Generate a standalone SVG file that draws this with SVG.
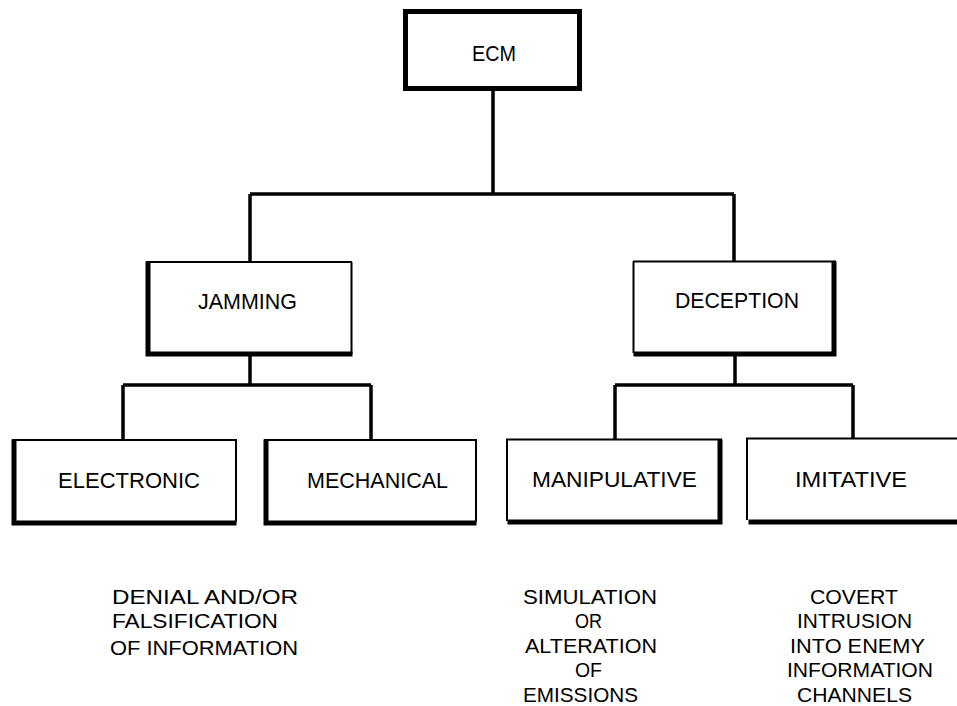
<svg xmlns="http://www.w3.org/2000/svg" width="957" height="706" viewBox="0 0 957 706">
<style>
.thin{stroke:#000;stroke-width:2;fill:none}
.thick{stroke:#000;stroke-width:5;fill:none;stroke-linecap:square}
.con{stroke:#000;stroke-width:3.5;fill:none}
text{font-family:"Liberation Sans",Arial,sans-serif;font-size:21px;fill:#000}
.lbl{font-size:22px}
</style>
<rect width="957" height="706" fill="#fff"/>
<g id="connectors">
<path class="con" d="M493 91V195M250 194H734M250 194V262M734 194V261"/>
<path class="con" d="M250 356V385M123 385H371M123 385V440M371 385V440"/>
<path class="con" d="M735 356V385M615 385H853M615 385V439M853 385V439"/>
</g>
<g id="ecm">
<rect class="thick" x="405.5" y="11.5" width="174" height="77"/>
<text class="lbl" x="472" y="61" textLength="44" lengthAdjust="spacingAndGlyphs">ECM</text>
</g>
<g id="jamming">
<path class="thin" d="M146 262H352M351.5 262V354"/>
<path class="thick" d="M148 264V353M148 354H350"/>
<text class="lbl" x="198" y="309" textLength="99" lengthAdjust="spacingAndGlyphs">JAMMING</text>
</g>
<g id="deception">
<path class="thin" d="M633 261.5H836M633.5 261.5V353"/>
<path class="thick" d="M834 264V353M636 354H834"/>
<text class="lbl" x="675" y="308" textLength="124" lengthAdjust="spacingAndGlyphs">DECEPTION</text>
</g>
<g id="electronic">
<path class="thin" d="M12 440H237M236 440V522"/>
<path class="thick" d="M14 442V523M14 523H234"/>
<text class="lbl" x="58" y="488" textLength="142" lengthAdjust="spacingAndGlyphs">ELECTRONIC</text>
</g>
<g id="mechanical">
<path class="thin" d="M264 440H477M476 440V522"/>
<path class="thick" d="M266 442V523M266 523H474"/>
<text class="lbl" x="307" y="488" textLength="141" lengthAdjust="spacingAndGlyphs">MECHANICAL</text>
</g>
<g id="manipulative">
<path class="thin" d="M506 439.5H722M507 439.5V521"/>
<path class="thick" d="M720 442V522M510 522H720"/>
<text class="lbl" x="532" y="487" textLength="165" lengthAdjust="spacingAndGlyphs">MANIPULATIVE</text>
</g>
<g id="imitative">
<path class="thin" d="M746 438.5H957M747 438.5V520"/>
<path class="thick" d="M751 522H957"/>
<text class="lbl" x="795" y="487" textLength="112" lengthAdjust="spacingAndGlyphs">IMITATIVE</text>
</g>
<g id="notes">
<text x="112" y="604" textLength="186" lengthAdjust="spacingAndGlyphs">DENIAL  AND/OR</text>
<text x="112" y="628" textLength="166" lengthAdjust="spacingAndGlyphs">FALSIFICATION</text>
<text x="110" y="655" textLength="188" lengthAdjust="spacingAndGlyphs">OF INFORMATION</text>
<text x="523" y="604" textLength="134" lengthAdjust="spacingAndGlyphs">SIMULATION</text>
<text x="575" y="628" textLength="27" lengthAdjust="spacingAndGlyphs">OR</text>
<text x="525" y="653" textLength="132" lengthAdjust="spacingAndGlyphs">ALTERATION</text>
<text x="575" y="677" textLength="27" lengthAdjust="spacingAndGlyphs">OF</text>
<text x="523" y="702" textLength="115" lengthAdjust="spacingAndGlyphs">EMISSIONS</text>
<text x="810" y="604" textLength="88" lengthAdjust="spacingAndGlyphs">COVERT</text>
<text x="797" y="628" textLength="115" lengthAdjust="spacingAndGlyphs">INTRUSION</text>
<text x="790" y="653" textLength="135" lengthAdjust="spacingAndGlyphs">INTO ENEMY</text>
<text x="787" y="677" textLength="146" lengthAdjust="spacingAndGlyphs">INFORMATION</text>
<text x="797" y="702" textLength="115" lengthAdjust="spacingAndGlyphs">CHANNELS</text>
</g>
</svg>
